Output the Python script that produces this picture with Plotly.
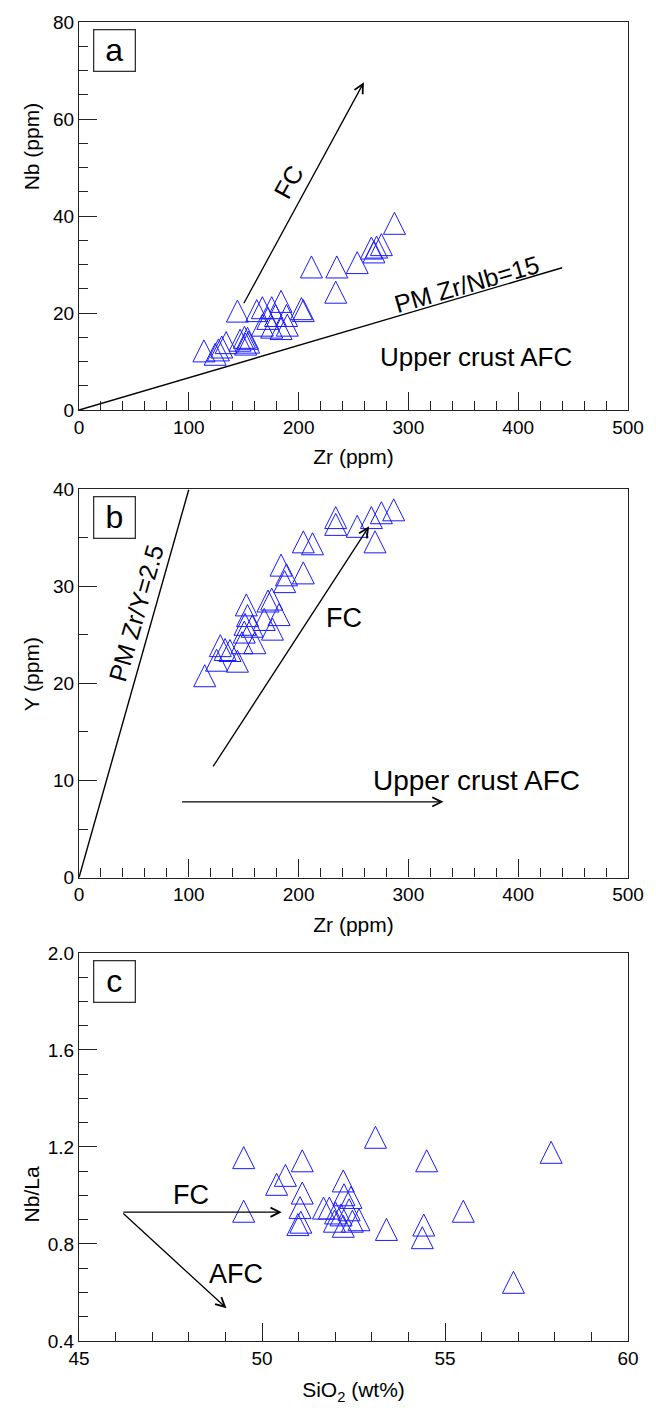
import plotly.graph_objects as go

# ---------------- data ----------------
# Panel a: Zr (ppm) vs Nb (ppm)
zr_a = [113.8, 124.0, 127.0, 130.0, 134.0, 146.7, 150.7, 153.5, 154.5, 151.8,
        144.3, 161.9, 167.0, 175.5, 184.0, 189.0, 202.6, 204.3, 167.0, 175.5,
        184.0, 189.7, 172.0, 179.0, 211.7, 234.8, 233.8, 253.4, 266.3, 271.0,
        275.4, 268.6, 287.3]
nb_a = [12.2, 11.5, 12.4, 13.0, 13.9, 14.4, 15.0, 14.8, 14.0, 13.6,
        20.4, 20.5, 21.1, 21.1, 22.4, 19.5, 20.9, 20.5, 17.5, 17.1,
        16.8, 17.5, 18.9, 19.5, 29.5, 29.5, 24.3, 30.4, 33.4, 33.6,
        34.1, 32.6, 38.5]

# Panel b: Zr (ppm) vs Y (ppm)
zr_b = [114.5, 128.7, 133.1, 137.5, 125.3, 144.3, 152.4, 153.5, 151.2, 148.4,
        160.2, 157.7, 172.1, 175.5, 182.2, 168.7, 176.2, 184.0, 189.0, 187.3,
        204.3, 204.3, 212.7, 233.8, 233.8, 253.4, 266.3, 275.4, 286.6, 269.6,
        150.5]
y_b = [20.8, 23.9, 23.5, 23.4, 22.4, 22.3, 28.1, 27.0, 26.1, 24.2,
       24.2, 25.9, 28.5, 28.7, 27.1, 26.6, 25.6, 32.2, 31.2, 30.5,
       31.4, 34.6, 34.4, 37.1, 36.4, 36.2, 37.1, 37.6, 37.9, 34.6,
       25.3]

# Panel c: SiO2 (wt%) vs Nb/La
sio2_c = [49.5, 49.5, 50.64, 50.4, 51.1, 51.1, 51.04, 51.06, 50.98, 52.22,
          52.24, 52.43, 51.68, 51.84, 52.01, 52.16, 52.38, 52.65, 52.47, 52.22,
          51.98, 53.1, 53.4, 54.42, 54.38, 54.5, 55.5, 56.87, 57.9]
nbla_c = [1.156, 0.935, 1.083, 1.046, 1.143, 1.01, 0.95, 0.89, 0.88, 1.06,
          1.003, 0.992, 0.948, 0.948, 0.928, 0.92, 0.941, 0.90, 0.894, 0.873,
          0.894, 1.24, 0.86, 0.878, 0.826, 1.143, 0.935, 0.642, 1.178]

# Reference lines / vectors
pm_nb_zr = [0, 440]            # PM Zr/Nb = 15 line (Zr values)
pm_zrnb_ratio = 15
pm_y_zr = [0, 100]             # PM Zr/Y = 2.5 line (Zr values)
pm_zry_ratio = 2.5
fc_a = [(149.4, 21.7), (259.5, 67.6)]
fc_b = [(121.3, 11.3), (264.2, 36.2)]
afc_b = [(92.5, 7.8), (332.0, 7.8)]
fc_c = [(46.17, 0.931), (50.54, 0.931)]
afc_c = [(46.17, 0.931), (49.03, 0.535)]

FONT = "Liberation Sans, Arial, sans-serif"
BLUE = "#1a1aff"
MS = 22

fig = go.Figure()

def tri(x, y, xa, ya):
    fig.add_trace(go.Scatter(
        x=x, y=y, mode="markers", xaxis=xa, yaxis=ya, showlegend=False,
        marker=dict(symbol="arrow-down-open", angle=180, standoff=MS / 2,
                    size=MS, color=BLUE, line=dict(color=BLUE, width=1))))

def line(xs, ys, xa, ya):
    fig.add_trace(go.Scatter(x=xs, y=ys, mode="lines", xaxis=xa, yaxis=ya,
                             showlegend=False, line=dict(color="black", width=1.4)))

# panel a
line(pm_nb_zr, [v / pm_zrnb_ratio for v in pm_nb_zr], "x", "y")
tri(zr_a, nb_a, "x", "y")
# panel b
line(pm_y_zr, [v / pm_zry_ratio for v in pm_y_zr], "x2", "y2")
tri(zr_b, y_b, "x2", "y2")
# panel c
tri(sio2_c, nbla_c, "x3", "y3")

def arrow(seg, xr, yr):
    (x0, y0), (x1, y1) = seg
    fig.add_annotation(x=x1, y=y1, ax=x0, ay=y0, xref=xr, yref=yr, axref=xr, ayref=yr,
                       text="", showarrow=True, arrowhead=5, arrowsize=1.4,
                       arrowwidth=1.3, arrowcolor="black", standoff=0, startstandoff=0)

arrow(fc_a, "x", "y")
arrow(fc_b, "x2", "y2")
arrow(afc_b, "x2", "y2")
arrow(fc_c, "x3", "y3")
arrow(afc_c, "x3", "y3")

def label(text, x, y, xr, yr, size, angle=0):
    fig.add_annotation(x=x, y=y, xref=xr, yref=yr, text=text, showarrow=False,
                       textangle=angle, font=dict(family=FONT, size=size, color="black"))

label("FC", 190.7, 47.0, "x", "y", 25, -61)
label("PM Zr/Nb=15", 353.3, 26.0, "x", "y", 25, -16)
label("Upper crust AFC", 362, 10.9, "x", "y", 26)
label("PM Zr/Y=2.5", 51.8, 27.3, "x2", "y2", 25, -74)
label("FC", 241.5, 26.8, "x2", "y2", 27)
label("Upper crust AFC", 362, 10.0, "x2", "y2", 28)
label("FC", 48.06, 1.003, "x3", "y3", 27)
label("AFC", 49.28, 0.676, "x3", "y3", 27)

# panel letter boxes
for i, letter in enumerate(["a", "b", "c"]):
    sx = "x" if i == 0 else f"x{i+1}"
    sy = "y" if i == 0 else f"y{i+1}"
    fig.add_annotation(x=0.0248, y=0.982, xref=f"{sx} domain", yref=f"{sy} domain",
                       xanchor="left", yanchor="top", text=letter, showarrow=False,
                       width=38, height=38, align="center", valign="middle",
                       bordercolor="#333", borderwidth=1.3, borderpad=1, bgcolor="white",
                       font=dict(family=FONT, size=32, color="black"))

H = 1410
T, B = 15, 66
ph = H - T - B
def dom(top_px, bot_px):
    return [1 - (bot_px - T) / ph, 1 - (top_px - T) / ph]

# y-axis titles as paper annotations (reference places them off-centre)
ytitles = [("Nb (ppm)", 140), ("Y (ppm)", 672), ("Nb/La", 1196)]
for text, ypx in ytitles:
    fig.add_annotation(x=30, y=1 - (ypx - T) / ph, xref="paper", yref="paper", text=text,
                       showarrow=False, textangle=-90, xanchor="center", yanchor="middle",
                       font=dict(family=FONT, size=21, color="black"))
# convert x from px to paper units for those annotations
for a in fig.layout.annotations:
    if a.xref == "paper" and a.textangle == -90:
        a.x = (30 - 79) / (656 - 79 - 13)

ax_common = dict(showline=True, mirror=True, linecolor="#222", linewidth=1.3,
                 ticks="inside", ticklen=18, tickwidth=1.3, tickcolor="#222",
                 showgrid=False, zeroline=False,
                 tickfont=dict(family=FONT, size=19, color="black"),
                 title_font=dict(family=FONT, size=21, color="black"))
mn = dict(ticks="inside", ticklen=9, tickwidth=1.3, tickcolor="#222")

fig.update_layout(
    width=656, height=H, margin=dict(l=79, r=13, t=T, b=B),
    plot_bgcolor="white", paper_bgcolor="white",
    xaxis=dict(ax_common, domain=[0, 1], range=[0, 500], dtick=100, anchor="y",
               minor=dict(mn, dtick=20), title=dict(text="Zr (ppm)", standoff=12)),
    yaxis=dict(ax_common, domain=dom(15, 406), range=[0, 80], dtick=20, anchor="x",
               minor=dict(mn, dtick=5)),
    xaxis2=dict(ax_common, domain=[0, 1], range=[0, 500], dtick=100, anchor="y2",
                minor=dict(mn, dtick=20), title=dict(text="Zr (ppm)", standoff=12)),
    yaxis2=dict(ax_common, domain=dom(486, 877), range=[0, 40], dtick=10, anchor="x2",
                minor=dict(mn, dtick=5)),
    xaxis3=dict(ax_common, domain=[0, 1], range=[45, 60], dtick=5, anchor="y3",
                minor=dict(mn, dtick=1), title=dict(text="SiO<sub>2</sub> (wt%)", standoff=14)),
    yaxis3=dict(ax_common, domain=dom(953, 1344), range=[0.4, 2.0], dtick=0.4, tick0=0.4,
                tickformat=".1f", anchor="x3", minor=dict(mn, dtick=0.1)),
)

fig.write_html("out.html")
